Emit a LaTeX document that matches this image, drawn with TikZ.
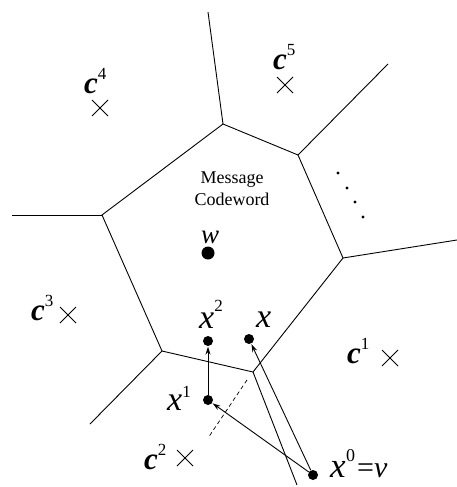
\documentclass[tikz,border=0pt]{standalone}
\usepackage{fontspec}
\setmainfont{Liberation Serif}
\usetikzlibrary{arrows.meta,calc}
\newcommand\cl[2]{{\fontsize{31}{31}\selectfont\bfseries\itshape c}\raisebox{14pt}{\fontsize{17}{17}\selectfont #2}}
\newcommand\xl[2]{{\fontsize{34}{34}\selectfont\itshape x}\raisebox{#2}{\fontsize{17}{17}\selectfont #1}}
\begin{document}
\begin{tikzpicture}[x=1pt,y=-1pt,
  edge/.style={line width=0.9pt},
  pt/.style={circle,fill=black,inner sep=0pt,minimum size=10pt},
  bigpt/.style={circle,fill=black,inner sep=0pt,minimum size=13pt},
  arr/.style={line width=0.9pt,-{Stealth[length=8pt,width=5pt]},shorten >=0.5pt},
  cross/.style={line width=0.8pt},
  lab/.style={anchor=base west,inner sep=0pt}]
\useasboundingbox (0,0) rectangle (457,487);
% vertices
\coordinate (A) at (223,124);
\coordinate (B) at (298,155);
\coordinate (C) at (343,258);
\coordinate (D) at (253,372);
\coordinate (E) at (162,351);
\coordinate (F) at (102,215);
\coordinate (Ao) at (208,12);
\coordinate (Bo) at (388,64);
\coordinate (Co) at (457,240);
\coordinate (Do) at (297,485);
\coordinate (Eo) at (90,424);
\coordinate (Fo) at (12,215);
\draw[edge] (A) -- (B) -- (C) -- (D) -- (E) -- (F) -- cycle;
\draw[edge] (A) -- (Ao);
\draw[edge] (B) -- (Bo);
\draw[edge] (C) -- (Co);
\draw[edge] (D) -- (Do);
\draw[edge] (E) -- (Eo);
\draw[edge] (F) -- (Fo);
% dashed
\coordinate (d1) at (247,380);
\coordinate (d2) at (208,438);
\draw[line width=0.7pt,dash pattern=on 4pt off 3pt] (d1) -- (d2);
% points
\node[bigpt] (w) at (208,253) {};
\node[pt] (x2) at (208,341) {};
\node[pt] (x) at (249,339) {};
\node[pt] (x1) at (208,400) {};
\node[pt] (x0) at (313,475) {};
\draw[arr] (x1) -- (x2);
\draw[arr] (x0) -- (x1);
\draw[arr] (x0) -- (x);
% labels
\node[inner sep=0pt,align=center,font=\fontsize{18}{22}\selectfont] (msg) at (232,189) {Message\\Codeword};
\node[lab] (wl) at (201,243) {\fontsize{27}{27}\selectfont\itshape w};
\node[lab] (x2l) at (199,328) {\xl{2}{17pt}};
\node[lab] (xl) at (256,327) {\fontsize{34}{34}\selectfont\itshape x};
\node[lab] (x1l) at (167,410) {\xl{1}{13pt}};
\node[lab] (x0l) at (330,477) {{\fontsize{35}{35}\selectfont\itshape x}\kern0.5pt\raisebox{16pt}{\fontsize{18}{18}\selectfont 0}\kern2pt{\fontsize{30}{30}\selectfont =\itshape v}};
% codewords
\node[lab] (c1l) at (347,363) {\cl{}{1}};
\node[lab] (c2l) at (144,469) {\cl{}{2}};
\node[lab] (c3l) at (31,320) {\cl{}{3}};
\node[lab] (c4l) at (84,93) {\cl{}{4}};
\node[lab] (c5l) at (273,70) {\cl{}{5}};
\foreach \cx/\cy in {390/358,185/458,68/315,100/108,285/85}{
  \draw[cross] (\cx-8,\cy-8) -- (\cx+8,\cy+8);
  \draw[cross] (\cx-8,\cy+8) -- (\cx+8,\cy-8);
}
% dots
\foreach \cx/\cy in {338/173,347/188,355/202,363/217}{
  \fill (\cx,\cy) circle[radius=1.6pt];
}
\end{tikzpicture}
\end{document}
